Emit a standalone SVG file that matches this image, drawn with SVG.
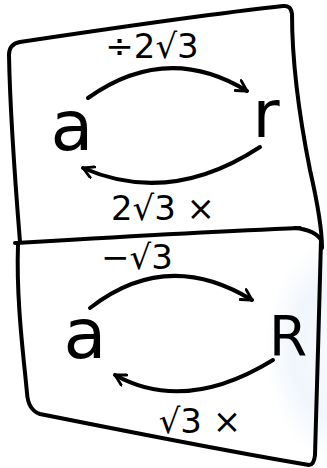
<svg xmlns="http://www.w3.org/2000/svg" width="327" height="468" viewBox="0 0 327 468">
<style>
.edge{fill:none;stroke:#000;stroke-width:4;stroke-linecap:round;stroke-linejoin:round}
.frame{fill:none;stroke:#000;stroke-width:4;stroke-linecap:round;stroke-linejoin:round}
.node{font-family:"DejaVu Sans",sans-serif;fill:#000;text-anchor:middle}
.lbl{font-family:"DejaVu Sans",sans-serif;fill:#000;text-anchor:middle;font-size:34px}
</style>
<defs>
<marker id="arr" viewBox="0 0 12 12" refX="10" refY="6" markerWidth="14" markerHeight="14" markerUnits="userSpaceOnUse" orient="auto">
<path d="M1,1 L10,6 L1,11" fill="none" stroke="#000" stroke-width="2.4" stroke-linecap="round" stroke-linejoin="round"/>
</marker>
<radialGradient id="wm" cx="0.5" cy="0.5" r="0.5">
<stop offset="0" stop-color="#f7fafd"/>
<stop offset="0.6" stop-color="#f1f6fc"/>
<stop offset="1" stop-color="#f1f6fc" stop-opacity="0"/>
</radialGradient>
</defs>
<rect width="327" height="468" fill="#fff"/>
<ellipse cx="335" cy="350" rx="70" ry="112" fill="url(#wm)"/>
<g id="frames">
<path class="frame" d="M20,242 C15,180 10,110 9,55 Q9,44 20,42 C100,30 200,15 283,6 Q291,5 292,14 C292,60 300,120 310,170 C318,205 322,230 322,248"/>
<path class="frame" d="M15,243 C100,238 200,232 300,228"/>
<path class="frame" d="M295,228 Q315,230 321,240"/>
<path class="frame" d="M18,245 C16,300 24,360 27,393 Q28,410 40,414 C120,430 220,450 309,465 Q314,465 315,455 C316,400 320,300 321,240"/>
</g>
<g id="node-a-top"><text class="node" x="72" y="150" font-size="70">a</text></g>
<g id="node-r"><text class="node" x="266" y="137" font-size="66">r</text></g>
<g id="node-a-bottom"><text class="node" x="85" y="358" font-size="70">a</text></g>
<g id="node-R"><text class="node" x="288" y="355" font-size="55">R</text></g>
<g id="connectors">
<path class="edge" d="M88,98 Q167,42 247,91" marker-end="url(#arr)"/>
<path class="edge" d="M260,147 Q170,206 83,168" marker-end="url(#arr)"/>
<path class="edge" d="M90,308 Q167,248 252,300" marker-end="url(#arr)"/>
<path class="edge" d="M273,360 Q185,414 115,375" marker-end="url(#arr)"/>
</g>
<g id="labels">
<text class="lbl" x="152" y="58" font-size="37">÷2√3</text>
<text class="lbl" x="163" y="220">2√3 ×</text>
<text class="lbl" x="137" y="269">−√3</text>
<text class="lbl" x="200" y="433">√3 ×</text>
</g>
</svg>
